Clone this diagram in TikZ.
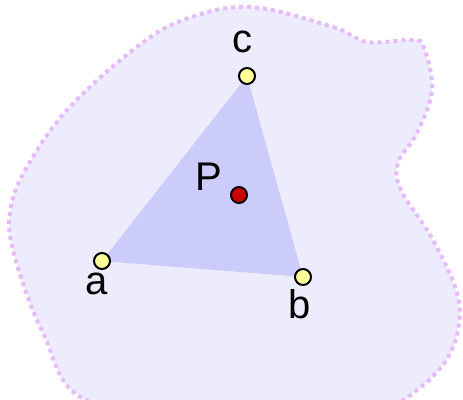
\documentclass[tikz,border=0pt]{standalone}
\usepackage{fontspec}
\setmainfont{Liberation Sans}
\definecolor{blobfill}{HTML}{ECECFC}
\definecolor{blobline}{HTML}{E6BCF8}
\definecolor{trifill}{HTML}{CCCCFA}
\definecolor{ptyellow}{HTML}{FFFF99}
\definecolor{ptred}{HTML}{CC0000}
\tikzset{
  vertex/.style={circle, draw=black, line width=2pt, fill=ptyellow, minimum size=16pt, inner sep=0pt},
  query/.style={circle, draw=black, line width=2pt, fill=ptred, minimum size=16pt, inner sep=0pt},
  lbl/.style={font=\fontsize{40}{40}\selectfont, inner sep=0pt, text=black},
  blob/.style={fill=blobfill, draw=blobline, line width=4pt, dash pattern=on 4pt off 4pt}
}
\begin{document}
\begin{tikzpicture}[x=1pt, y=-1pt]
\useasboundingbox (0,0) rectangle (463,399);
\fill[white] (0,0) rectangle (463,399);
\begin{scope}
\clip (0,0) rectangle (463,399);
\draw[blob] plot[smooth cycle, tension=0.6] coordinates {
  (250,7) (333,27) (367,42) (413,40) (424,48) (432,90) (417,133) (398,163)
  (401,190) (433,240) (457,293) (458,330) (445,362) (417,390) (383,405)
  (250,420) (90,402) (43,333) (13,250) (11,207) (27,167) (67,110) (133,50) (183,20)
};
\end{scope}
\coordinate (pa) at (102,261);
\coordinate (pb) at (303,277);
\coordinate (pc) at (247,76);
\fill[trifill] (pa) -- (pb) -- (pc) -- cycle;
\node[vertex] (a) at (pa) {};
\node[vertex] (b) at (pb) {};
\node[vertex] (c) at (pc) {};
\node[query] (p) at (239,195) {};
\node[lbl] (la) at (97,284) {a};
\node[lbl] (lb) at (300,304) {b};
\node[lbl] (lc) at (242,42) {c};
\node[lbl] (lp) at (209,177) {P};
\end{tikzpicture}
\end{document}
